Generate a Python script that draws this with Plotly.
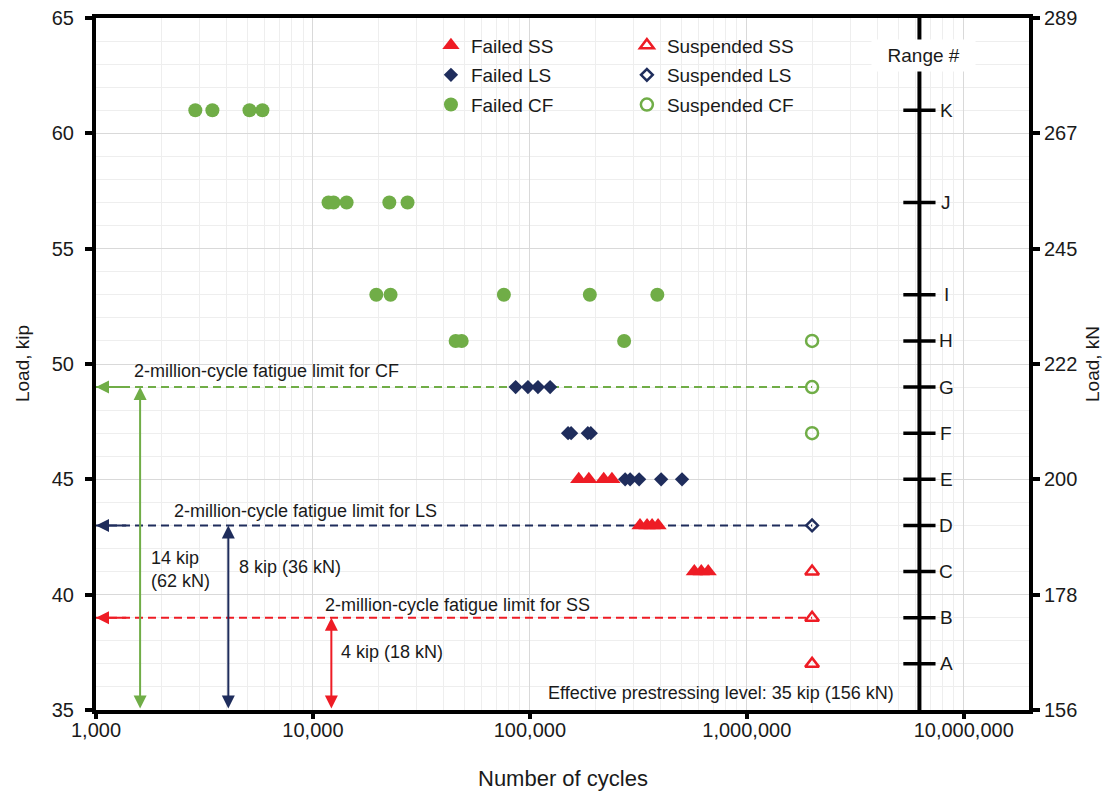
import math
import plotly.graph_objects as go

# ---------------- data ----------------
KIP_TO_KN = 4.448
SUSPENDED_CYCLES = 2_000_000

ss_failed_cycles = [168000, 187000, 219000, 239000, 322000, 347000, 366000, 390000, 573000, 617000, 664000]
ss_failed_load = [45, 45, 45, 45, 43, 43, 43, 43, 41, 41, 41]
ss_susp_load = [41, 39, 37]

ls_failed_cycles = [86000, 98000, 109000, 124000, 150000, 155000, 185000, 191000,
                    275000, 290000, 319000, 403000, 503000]
ls_failed_load = [49, 49, 49, 49, 47, 47, 47, 47, 45, 45, 45, 45, 45]
ls_susp_load = [43]

cf_failed_cycles = [2870, 3440, 5100, 5850,
                    11800, 12450, 14300, 22500, 27300,
                    19600, 22800, 75900, 189000, 387000,
                    45500, 48500, 272000]
cf_failed_load = [61, 61, 61, 61,
                  57, 57, 57, 57, 57,
                  53, 53, 53, 53, 53,
                  51, 51, 51]
cf_susp_load = [51, 49, 47]

prestress_cycles = [970]
prestress_load = [35]

fatigue_limit_types = ["CF", "LS", "SS"]
fatigue_limit_load = [49, 43, 39]
fatigue_limit_span_text = ["14 kip<br>(62 kN)", "8 kip (36 kN)", "4 kip (18 kN)"]
fatigue_limit_arrow_cycles = [1597, 4074, 12160]
PRESTRESS_LEVEL = 35

range_labels = ["A", "B", "C", "D", "E", "F", "G", "H", "I", "J", "K"]
range_loads = [37, 39, 41, 43, 45, 47, 49, 51, 53, 57, 61]
RANGE_AXIS_CYCLES = 6_250_000

kip_ticks = [35, 40, 45, 50, 55, 60, 65]
kn_tick_text = [str(round(k * KIP_TO_KN)) for k in kip_ticks]
cycle_ticks = [1_000, 10_000, 100_000, 1_000_000, 10_000_000]
cycle_tick_text = [f"{v:,}" for v in cycle_ticks]

# ---------------- style ----------------
RED = "#EE1C25"
NAVY = "#1F2D5C"
GREEN = "#70AD47"
BLUE = "#6F8FCF"
TXT = "#1a1a1a"
FONT = "Arial, 'Liberation Sans', sans-serif"
colors = {"CF": GREEN, "LS": NAVY, "SS": RED}

fig = go.Figure()

# fatigue-limit dashed lines (drawn first, beneath markers)
for t, ld in zip(fatigue_limit_types, fatigue_limit_load):
    fig.add_trace(go.Scatter(
        x=[cycle_ticks[0], SUSPENDED_CYCLES], y=[ld, ld], mode="lines",
        line=dict(color=colors[t], width=2, dash="8px,5px"),
        showlegend=False, hoverinfo="skip"))

# range axis
fig.add_trace(go.Scatter(
    x=[RANGE_AXIS_CYCLES, RANGE_AXIS_CYCLES], y=[kip_ticks[0], kip_ticks[-1]],
    mode="lines", line=dict(color="black", width=4),
    showlegend=False, hoverinfo="skip", cliponaxis=False))
fig.add_trace(go.Scatter(
    x=[RANGE_AXIS_CYCLES] * len(range_loads), y=range_loads, mode="markers",
    marker=dict(symbol="line-ew", size=23, line=dict(color="black", width=3.5)),
    showlegend=False, hoverinfo="skip"))

# data series
fig.add_trace(go.Scatter(
    x=ss_failed_cycles, y=ss_failed_load, mode="markers", name="Failed SS", legendgroup="fss",
    marker=dict(symbol="triangle-up", size=15, color=RED), legend="legend"))
fig.add_trace(go.Scatter(
    x=ls_failed_cycles, y=ls_failed_load, mode="markers", name="Failed LS", legendgroup="fls",
    marker=dict(symbol="diamond", size=11, color=NAVY), legend="legend"))
fig.add_trace(go.Scatter(
    x=cf_failed_cycles, y=cf_failed_load, mode="markers", name="Failed CF", legendgroup="fcf",
    marker=dict(symbol="circle", size=14, color=GREEN), legend="legend"))
fig.add_trace(go.Scatter(
    x=[SUSPENDED_CYCLES] * len(ss_susp_load), y=ss_susp_load, mode="markers", name="Suspended SS",
    legendgroup="sss",
    marker=dict(symbol="triangle-up-open", size=12, color=RED, line=dict(width=2.5)), legend="legend2"))
fig.add_trace(go.Scatter(
    x=[SUSPENDED_CYCLES] * len(ls_susp_load), y=ls_susp_load, mode="markers", name="Suspended LS",
    legendgroup="sls",
    marker=dict(symbol="diamond-open", size=9, color=NAVY, line=dict(width=2.5)), legend="legend2"))
fig.add_trace(go.Scatter(
    x=[SUSPENDED_CYCLES] * len(cf_susp_load), y=cf_susp_load, mode="markers", name="Suspended CF",
    legendgroup="scf",
    marker=dict(symbol="circle-open", size=12, color=GREEN, line=dict(width=2.5)), legend="legend2"))

fig.add_trace(go.Scatter(
    x=prestress_cycles, y=prestress_load, mode="markers",
    marker=dict(size=10, color=BLUE), showlegend=False, cliponaxis=False, hoverinfo="skip"))

# invisible trace to activate the kN axis
fig.add_trace(go.Scatter(x=[cycle_ticks[0]], y=[kip_ticks[0]], yaxis="y2", mode="markers",
                         marker=dict(opacity=0), showlegend=False, hoverinfo="skip"))

annotations = []
lg = math.log10
text_pos = {  # (left x in cycles, y in kip) for the limit labels
    "CF": (1466, 49.7), "LS": (2244, 43.62), "SS": (11070, 39.57)}
span_pos = {"CF": (1758, 41.11), "LS": (4480, 41.2), "SS": (13250, 37.51)}
for t, ld, span_txt, ax_c in zip(fatigue_limit_types, fatigue_limit_load,
                                  fatigue_limit_span_text, fatigue_limit_arrow_cycles):
    c = colors[t]
    annotations.append(dict(x=lg(cycle_ticks[0]), y=ld, ax=lg(1400), ay=ld, xref="x", yref="y",
                            axref="x", ayref="y", text="", showarrow=True, arrowhead=2,
                            arrowsize=1.3, arrowwidth=2, arrowcolor=c, standoff=0))
    annotations.append(dict(x=lg(ax_c), y=ld, ax=lg(ax_c), ay=PRESTRESS_LEVEL, xref="x", yref="y",
                            axref="x", ayref="y", text="", showarrow=True, arrowhead=2,
                            arrowside="end+start", arrowsize=1.3, arrowwidth=2, arrowcolor=c,
                            standoff=0, startstandoff=0))
    tx, ty = text_pos[t]
    annotations.append(dict(x=lg(tx), y=ty, xref="x", yref="y", xanchor="left", yanchor="middle",
                            text=f"2-million-cycle fatigue limit for {t}", showarrow=False,
                            font=dict(size=18, color=TXT, family=FONT)))
    sx, sy = span_pos[t]
    annotations.append(dict(x=lg(sx), y=sy, xref="x", yref="y", xanchor="left", yanchor="middle",
                            text=span_txt, showarrow=False, align="left",
                            font=dict(size=18, color=TXT, family=FONT)))

annotations.append(dict(x=lg(118500), y=35.74, xref="x", yref="y", xanchor="left", yanchor="middle",
                        text=f"Effective prestressing level: {PRESTRESS_LEVEL} kip "
                             f"({round(PRESTRESS_LEVEL * KIP_TO_KN)} kN)",
                        showarrow=False, font=dict(size=18, color=TXT, family=FONT)))

for lab, ld in zip(range_labels, range_loads):
    annotations.append(dict(x=lg(RANGE_AXIS_CYCLES), y=ld, xref="x", yref="y", xshift=27,
                            xanchor="center", yanchor="middle", text=lab, showarrow=False,
                            font=dict(size=19, color=TXT, family=FONT)))
annotations.append(dict(x=lg(RANGE_AXIS_CYCLES), y=63.39, xref="x", yref="y", xshift=4,
                        xanchor="center", yanchor="middle", text="&nbsp;&nbsp;Range #&nbsp;&nbsp;",
                        showarrow=False, bgcolor="white", borderpad=5,
                        font=dict(size=19, color=TXT, family=FONT)))

# axis titles
annotations.append(dict(x=-0.0793, y=0.5, xref="paper", yref="paper", text="Load, kip",
                        textangle=-90, showarrow=False, xanchor="center", yanchor="middle",
                        font=dict(size=19, color=TXT, family=FONT)))
annotations.append(dict(x=1.0675, y=0.5, xref="paper", yref="paper", text="Load, kN",
                        textangle=-90, showarrow=False, xanchor="center", yanchor="middle",
                        font=dict(size=19, color=TXT, family=FONT)))
annotations.append(dict(x=0.5, y=-0.0983, xref="paper", yref="paper", text="Number of cycles",
                        showarrow=False, xanchor="center", yanchor="middle",
                        font=dict(size=22, color=TXT, family=FONT)))

minor_x = [m * 10 ** d for d in range(3, 8) for m in range(2, 10)]

fig.update_layout(
    width=1106, height=792,
    margin=dict(l=96, r=77, t=18, b=82, autoexpand=False),
    paper_bgcolor="white", plot_bgcolor="white",
    font=dict(family=FONT, size=19, color=TXT),
    annotations=annotations,
    showlegend=True,
    legend=dict(x=0.359, y=0.988, xanchor="left", yanchor="top", bgcolor="rgba(0,0,0,0)",
                font=dict(size=19, color=TXT, family=FONT), tracegroupgap=2,
                itemclick=False),
    legend2=dict(x=0.569, y=0.988, xanchor="left", yanchor="top", bgcolor="rgba(0,0,0,0)",
                 font=dict(size=19, color=TXT, family=FONT), tracegroupgap=2,
                 itemclick=False),
    xaxis=dict(
        type="log", range=[3, lg(2e7)], automargin=False,
        tickvals=cycle_ticks, ticktext=cycle_tick_text,
        showgrid=True, gridcolor="#d9d9d9", gridwidth=1,
        minor=dict(tickvals=minor_x, showgrid=True, gridcolor="#eeeeee", gridwidth=1, ticks=""),
        showline=True, linecolor="black", linewidth=4, mirror=True,
        ticks="outside", ticklen=5, tickwidth=4, tickcolor="black",
        ticklabelstandoff=-6,
        tickfont=dict(size=20, color=TXT, family=FONT),
        zeroline=False,
    ),
    yaxis=dict(
        range=[35, 65], tickvals=kip_ticks, automargin=False,
        showgrid=True, gridcolor="#d9d9d9", gridwidth=1,
        minor=dict(dtick=1, showgrid=True, gridcolor="#eeeeee", gridwidth=1, ticks=""),
        showline=True, linecolor="black", linewidth=4,
        ticks="outside", ticklen=7, tickwidth=4, tickcolor="black",
        ticklabelstandoff=7,
        tickfont=dict(size=20, color=TXT, family=FONT),
        zeroline=False,
    ),
    yaxis2=dict(
        overlaying="y", side="right", range=[35, 65], automargin=False,
        tickvals=kip_ticks, ticktext=kn_tick_text, showgrid=False,
        showline=True, linecolor="black", linewidth=4,
        ticks="outside", ticklen=7, tickwidth=4, tickcolor="black",
        ticklabelstandoff=0,
        tickfont=dict(size=20, color=TXT, family=FONT),
        zeroline=False,
    ),
)

fig.write_html("out.html")
